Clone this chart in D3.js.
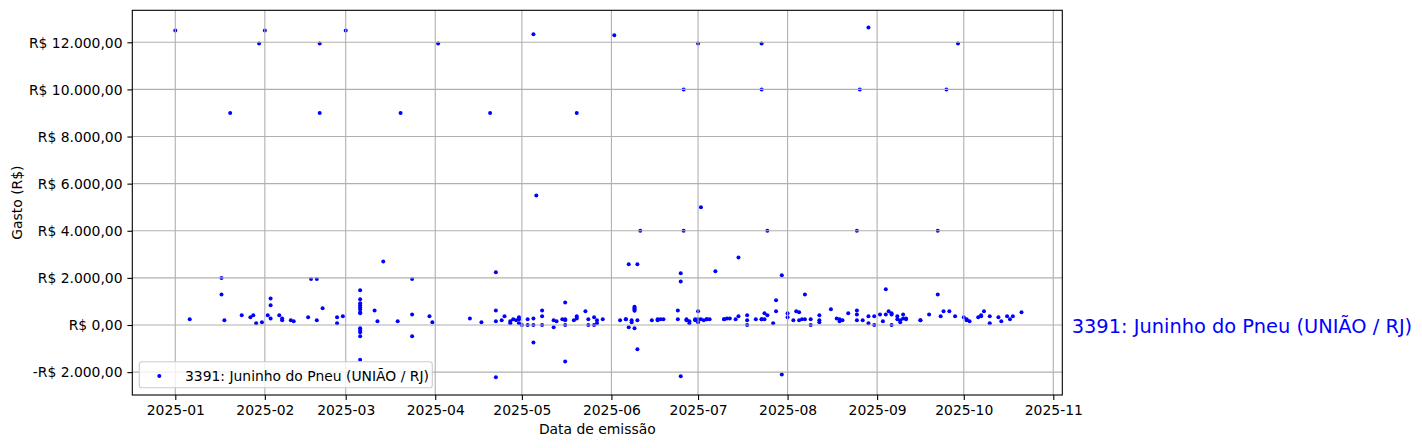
<!DOCTYPE html>
<html>
<head>
<meta charset="utf-8">
<script src="https://cdn.jsdelivr.net/npm/d3@7"></script>
<style>
  body { margin: 0; background: #fff; }
  svg { font-family: "DejaVu Sans", sans-serif; }
</style>
</head>
<body>
<svg id="chart" width="1422" height="448"></svg>
<script>
// one entry per emission date, gastos[i] holds every value of datas[i]
var datas = [
  "2025-01-01","2025-01-06","2025-01-17","2025-01-18","2025-01-20","2025-01-24","2025-01-27","2025-01-28","2025-01-29","2025-01-30","2025-01-31",
  "2025-02-01","2025-02-02","2025-02-03","2025-02-06","2025-02-07","2025-02-10","2025-02-11","2025-02-16","2025-02-17","2025-02-19","2025-02-20","2025-02-21","2025-02-26","2025-02-28",
  "2025-03-01","2025-03-06","2025-03-11","2025-03-12","2025-03-14","2025-03-19","2025-03-20","2025-03-24","2025-03-30","2025-03-31",
  "2025-04-02","2025-04-13","2025-04-17","2025-04-20","2025-04-22","2025-04-24","2025-04-25","2025-04-27","2025-04-28","2025-04-29","2025-04-30",
  "2025-05-01","2025-05-03","2025-05-05","2025-05-06","2025-05-08","2025-05-12","2025-05-13","2025-05-15","2025-05-16","2025-05-19","2025-05-20","2025-05-23","2025-05-24","2025-05-26","2025-05-27","2025-05-29",
  "2025-06-02","2025-06-04","2025-06-06","2025-06-07","2025-06-08","2025-06-09","2025-06-10","2025-06-11","2025-06-15","2025-06-17","2025-06-18","2025-06-19","2025-06-24","2025-06-25","2025-06-26","2025-06-27","2025-06-28","2025-06-30",
  "2025-07-01","2025-07-02","2025-07-03","2025-07-04","2025-07-05","2025-07-07","2025-07-10","2025-07-11","2025-07-12","2025-07-14","2025-07-15","2025-07-18","2025-07-21","2025-07-23","2025-07-24","2025-07-25","2025-07-27","2025-07-28","2025-07-30",
  "2025-08-01","2025-08-03","2025-08-04","2025-08-05","2025-08-06","2025-08-07","2025-08-09","2025-08-12","2025-08-16","2025-08-18","2025-08-19","2025-08-20","2025-08-22","2025-08-25","2025-08-26","2025-08-27","2025-08-29","2025-08-31",
  "2025-09-02","2025-09-03","2025-09-04","2025-09-05","2025-09-06","2025-09-08","2025-09-09","2025-09-10","2025-09-11","2025-09-16","2025-09-19","2025-09-22","2025-09-23","2025-09-24","2025-09-25","2025-09-26","2025-09-28","2025-09-29",
  "2025-10-01","2025-10-02","2025-10-03","2025-10-06","2025-10-07","2025-10-08","2025-10-10","2025-10-13","2025-10-14","2025-10-16","2025-10-17","2025-10-18","2025-10-21"
];

var gastos = [
  [12500],[240],[2000,1300],[200],[9000],[410],[330],[410],[70],[11950],[115],
  [12500],[410],[1130,840,280],[410],[280,200],[200],[160],[330],[1950],[1950,200],[11950,9000],[710],[330,70],[370],
  [12500],[1470,1090,920,840,750,670,540,500,-140,-225,-310,-480,-1480],[620],[160],[2700],[160],[9000],[1950,450,-480],[370],[115],
  [11950],[280],[115],[9000],[620,2240,160,-2220],[200],[370],[70,160],[240],[200],[330,70,240],
  [0],[240,0],[12340,280,0,-740],[5500],[620,370,0],[200,-100],[160],[240],[200,960,240,0,-1550],[200],[9000,280,370],[580],[240,0],[330,0],[70,200],[240],
  [12300],[200],[240,240],[2580,-100],[200,115],[780,730,690,650,610,-140],[200,2580,-1030],[4000],[200],[240,200],[240],[240],[620,240],[2200,1850,-2180],[10000,4000],[240,200],[70,160],[240,200],
  [11950,580,115,240],[5000,240],[200],[240,240],[240],[2280],[240,240],[280],[280],[240],[2870,370],[410,200,0],[240],[11950,10000,240,240],[240,500],[4000,410],[70],[1050,580],[2110,-2100],
  [500,330],[200],[580],[540,200],[240],[240,1300],[240,0],[410,200,115],[670],[280],[240,160],[200],[500],[4000,620,450,200],[10000],[200],[12630,370,70],[370,0],
  [450],[160],[1520,450],[580],[500,450,0],[240,370],[115,200],[280,450],[240,280],[200,200],[450],[4000,1300],[370],[580],[10000],[580],[370],[11950],
  [330],[240,200],[160],[330],[410,370],[580],[70,370],[330],[160],[370],[240],[370],[540]
];

var yTicks = [-2000, 0, 2000, 4000, 6000, 8000, 10000, 12000];
var serieNome = "3391: Juninho do Pneu (UNIÃO / RJ)";

var svg = d3.select("#chart");
var box = {left: 132.3, right: 1062.3, top: 10.3, bottom: 395};
var fontSize = 13.9;

var parseDate = d3.utcParse("%Y-%m-%d");
var points = [];
datas.forEach(function(d, i) {
  gastos[i].forEach(function(v) {
    points.push({date: parseDate(d), value: v});
  });
});

// x axis limits as in the picture (roughly 5% padding around the data)
var dayMs = 86400000;
var jan1 = Date.UTC(2025, 0, 1);
var pxPerDay = 878 / 304;
var x = d3.scaleUtc()
  .domain([new Date(jan1 - 43 / pxPerDay * dayMs), new Date(jan1 + 887 / pxPerDay * dayMs)])
  .range([box.left, box.right]);

var y = d3.scaleLinear()
  .domain([-2971, 13358])
  .range([box.bottom, box.top]);

var br = d3.formatLocale({decimal: ",", thousands: ".", grouping: [3], currency: ["R$ ", ""]});
var fmt = br.format(",.2f");
function reais(v) {
  return (v < 0 ? "-" : "") + "R$ " + fmt(Math.abs(v));
}

var xTicks = x.ticks(d3.utcMonth.every(1)).filter(function(t) { return t >= parseDate("2025-01-01"); });

// points first, matplotlib draws the grid on top of them
svg.append("g").selectAll("circle")
  .data(points)
  .enter()
  .append("circle")
  .attr("cx", function(d) { return x(d.date); })
  .attr("cy", function(d) { return y(d.value); })
  .attr("r", 2)
  .style("fill", "blue");

var grid = svg.append("g").attr("class", "grid");
grid.selectAll("line.gx")
  .data(xTicks)
  .enter()
  .append("line")
  .attr("x1", function(d) { return x(d); })
  .attr("x2", function(d) { return x(d); })
  .attr("y1", box.top)
  .attr("y2", box.bottom)
  .style("stroke", "#b0b0b0")
  .style("stroke-width", 1.1);
grid.selectAll("line.gy")
  .data(yTicks)
  .enter()
  .append("line")
  .attr("x1", box.left)
  .attr("x2", box.right)
  .attr("y1", function(d) { return y(d); })
  .attr("y2", function(d) { return y(d); })
  .style("stroke", "#b0b0b0")
  .style("stroke-width", 1.1);

var xAxis = d3.axisBottom(x)
  .tickValues(xTicks)
  .tickFormat(d3.utcFormat("%Y-%m"))
  .tickSize(4.9)
  .tickPadding(4.9);
var yAxis = d3.axisLeft(y)
  .tickValues(yTicks)
  .tickFormat(reais)
  .tickSize(4.9)
  .tickPadding(4.9);

var gX = svg.append("g")
  .attr("transform", "translate(0," + box.bottom + ")")
  .call(xAxis);
var gY = svg.append("g")
  .attr("transform", "translate(" + box.left + ",0)")
  .call(yAxis);

[gX, gY].forEach(function(g) {
  g.select(".domain").remove();
  g.selectAll(".tick line").style("stroke", "#000").style("stroke-width", 1.1);
  g.selectAll(".tick text")
    .style("font-family", "DejaVu Sans")
    .style("font-size", fontSize + "px")
    .style("fill", "#000");
});
gY.selectAll(".tick text").attr("dy", "0.35em");

// frame
svg.append("rect")
  .attr("x", box.left)
  .attr("y", box.top)
  .attr("width", box.right - box.left)
  .attr("height", box.bottom - box.top)
  .style("fill", "none")
  .style("stroke", "#000")
  .style("stroke-width", 1.1);

svg.append("text")
  .attr("x", (box.left + box.right) / 2)
  .attr("y", 434)
  .attr("text-anchor", "middle")
  .style("font-size", fontSize + "px")
  .text("Data de emissão");

svg.append("text")
  .attr("transform", "translate(21.5," + (box.top + box.bottom) / 2 + ") rotate(-90)")
  .attr("text-anchor", "middle")
  .style("font-size", fontSize + "px")
  .text("Gasto (R$)");

// label at the right of the axes
svg.append("text")
  .attr("x", 1071.7)
  .attr("y", y(0) + 7.5)
  .style("font-size", "19.4px")
  .style("fill", "blue")
  .text(serieNome);

// legend
var legend = svg.append("g");
legend.append("rect")
  .attr("x", 139.3)
  .attr("y", 361.7)
  .attr("width", 293)
  .attr("height", 26)
  .attr("rx", 2.8)
  .style("fill", "#fff")
  .style("fill-opacity", 0.8)
  .style("stroke", "#cccccc")
  .style("stroke-width", 1.1);
legend.append("circle")
  .attr("cx", 159.3)
  .attr("cy", 376)
  .attr("r", 2)
  .style("fill", "blue");
legend.append("text")
  .attr("x", 185)
  .attr("y", 380.5)
  .style("font-size", fontSize + "px")
  .text(serieNome);
</script>
</body>
</html>
